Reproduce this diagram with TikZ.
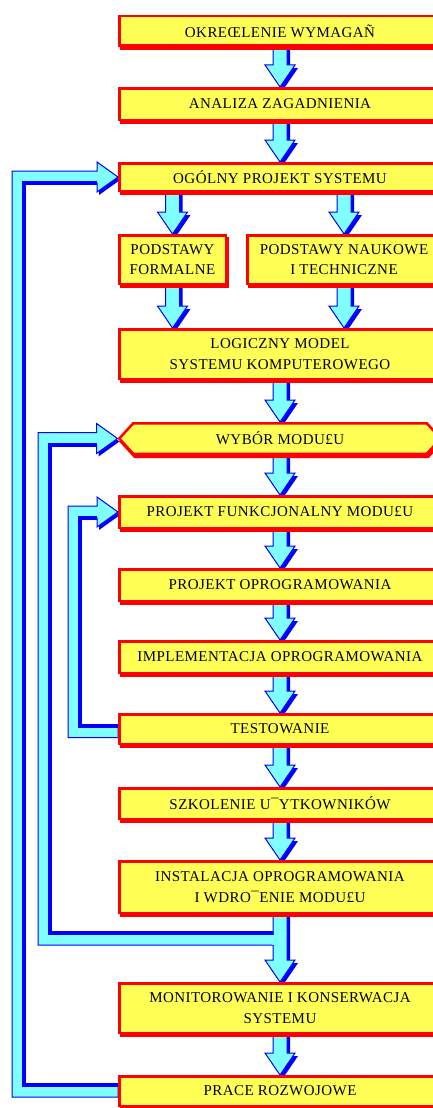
\documentclass[tikz,border=0pt]{standalone}
\usepackage{fontspec}
\setmainfont{Liberation Serif}[LetterSpace=3]
\usetikzlibrary{calc,shadows,shapes.symbols,backgrounds}

\definecolor{boxfill}{RGB}{255,255,85}
\definecolor{boxedge}{RGB}{255,0,0}
\definecolor{flowfill}{RGB}{128,255,255}
\definecolor{flowedge}{RGB}{0,0,255}

\tikzset{
  stagebox/.style={rectangle, draw=boxedge, line width=2.5pt, fill=boxfill,
    minimum width=321.5pt, inner sep=1pt, align=center, text=black,
    font=\fontsize{15}{20.5}\selectfont,
    general shadow={fill=boxedge, draw=boxedge, line width=2.5pt,
      shadow xshift=1.5pt, shadow yshift=-3pt}},
  hexbox/.style={stagebox, signal, signal to=west and east,
    signal pointer angle=95},
}

% block arrow pointing down, from #1 to the tip #2
\newcommand\flowdown[2]{%
  \path[fill=flowedge] let \p1=(#1), \p2=(#2) in
    (\x2-4pt,\y1-3pt) -- (\x2-4pt,\y2+19pt) -- (\x2-12pt,\y2+19pt) --
    (\x2+3pt,\y2-3pt) -- (\x2+18pt,\y2+19pt) -- (\x2+10pt,\y2+19pt) --
    (\x2+10pt,\y1-3pt) -- cycle;
  \path[fill=flowfill, draw=flowedge, line width=1pt] let \p1=(#1), \p2=(#2) in
    (\x2-7pt,\y1) -- (\x2-7pt,\y2+22pt) -- (\x2-15pt,\y2+22pt) --
    (\x2,\y2) -- (\x2+15pt,\y2+22pt) -- (\x2+7pt,\y2+22pt) --
    (\x2+7pt,\y1) -- cycle;
}

% return band: leaves #1 to the left, runs up at x = #3, enters #2 from the left
\newcommand\flowloop[3]{%
  \path[fill=flowedge] let \p2=(#2) in
    (\x2-19pt,\y2+12pt) -- (\x2+2pt,\y2-3pt) -- (\x2-19pt,\y2-18pt) -- cycle;
  \path[fill=flowfill, draw=flowedge, line width=1pt] let \p1=(#1), \p2=(#2) in
    (\x1,\y1-6pt) -- (#3pt,\y1-6pt) -- (#3pt,\y2+6pt) -- (\x2-21pt,\y2+6pt) --
    (\x2-21pt,\y2+15pt) -- (\x2,\y2) -- (\x2-21pt,\y2-15pt) --
    (\x2-21pt,\y2-6pt) -- (#3pt+12pt,\y2-6pt) -- (#3pt+12pt,\y1+6pt) --
    (\x1,\y1+6pt) -- cycle;
  \draw[flowedge, line width=4pt] let \p1=(#1), \p2=(#2) in
    (\x2-21pt,\y2-6pt) -- (#3pt+12pt,\y2-6pt) -- (#3pt+12pt,\y1+6pt) --
    (\x1,\y1+6pt);
}

\begin{document}
\begin{tikzpicture}[x=1pt,y=1pt]
\useasboundingbox (0,0) rectangle (432,-1108);

% stages
\node[stagebox, minimum height=29.5pt] (okr) at (280,-31) {OKREŒLENIE WYMAGAÑ};
\node[stagebox, minimum height=31.5pt] (anal) at (280,-104) {ANALIZA ZAGADNIENIA};
\node[stagebox, minimum height=27.5pt] (ogol) at (280,-177) {OGÓLNY PROJEKT SYSTEMU};
\node[stagebox, minimum height=48.5pt, minimum width=106.5pt] (formal) at (172.5,-259.5) {PODSTAWY\\FORMALNE};
\node[stagebox, minimum height=48.5pt, minimum width=193.5pt] (nauk) at (344,-259.5) {PODSTAWY NAUKOWE\\I TECHNICZNE};
\node[stagebox, minimum height=49.5pt] (logic) at (280,-354) {LOGICZNY MODEL\\SYSTEMU KOMPUTEROWEGO};
\node[hexbox, minimum height=30.5pt] (wybor) at (280,-438.5) {WYBÓR MODU£U};
\node[stagebox, minimum height=31.5pt] (projfun) at (280,-512) {PROJEKT FUNKCJONALNY MODU£U};
\node[stagebox, minimum height=31.5pt] (projopr) at (280,-585) {PROJEKT OPROGRAMOWANIA};
\node[stagebox, minimum height=31.5pt] (impl) at (280,-657) {IMPLEMENTACJA OPROGRAMOWANIA};
\node[stagebox, minimum height=29.5pt] (test) at (280,-729) {TESTOWANIE};
\node[stagebox, minimum height=30.5pt] (szkol) at (280,-803.5) {SZKOLENIE U¯YTKOWNIKÓW};
\node[stagebox, minimum height=51.5pt] (instal) at (280,-887) {INSTALACJA OPROGRAMOWANIA\\I WDRO¯ENIE MODU£U};
\node[stagebox, minimum height=49.5pt] (monit) at (280,-1008) {MONITOROWANIE I KONSERWACJA\\SYSTEMU};
\node[stagebox, minimum height=29.5pt] (prace) at (280,-1091) {PRACE ROZWOJOWE};

\coordinate (fork) at ($(instal.south)+(-7pt,-25pt)$);

\begin{scope}[on background layer]
  % forward flow
  \flowdown{okr.south}{anal.north}
  \flowdown{anal.south}{ogol.north}
  \flowdown{ogol.south -| formal.north}{formal.north}
  \flowdown{ogol.south -| nauk.north}{nauk.north}
  \flowdown{formal.south}{formal.south |- logic.north}
  \flowdown{nauk.south}{nauk.south |- logic.north}
  \flowdown{logic.south}{wybor.north}
  \flowdown{wybor.south}{projfun.north}
  \flowdown{projfun.south}{projopr.north}
  \flowdown{projopr.south}{impl.north}
  \flowdown{impl.south}{test.north}
  \flowdown{test.south}{szkol.north}
  \flowdown{szkol.south}{instal.north}
  \flowdown{instal.south}{monit.north}
  \flowdown{monit.south}{prace.north}
  % return paths
  \flowloop{prace.west}{ogol.west}{12}
  \flowloop{fork}{wybor.west}{38}
  \fill[flowfill] let \p1=(fork) in (\x1-1.5pt,\y1-5.5pt) rectangle (\x1+1.5pt,\y1+4pt);
  \flowloop{$(test.west)+(0,-2.5pt)$}{projfun.west}{68}
\end{scope}
\end{tikzpicture}
\end{document}
